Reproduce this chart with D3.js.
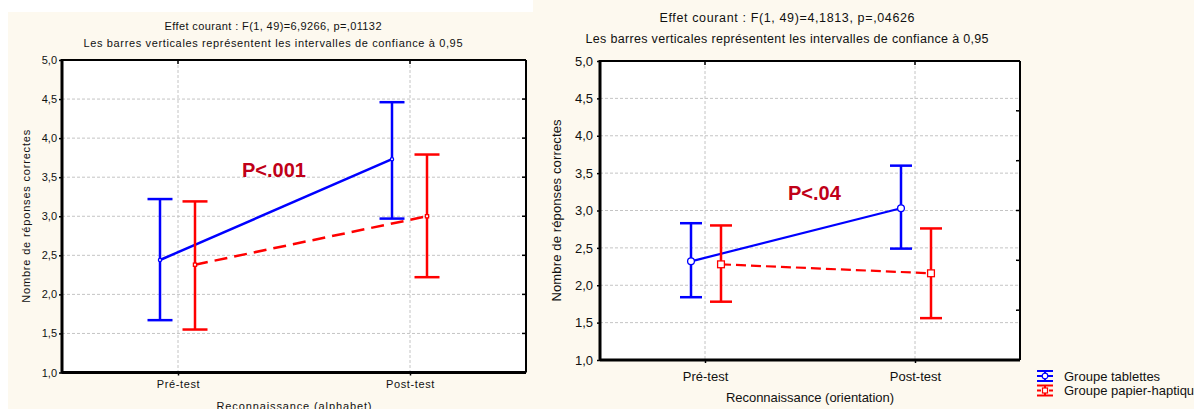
<!DOCTYPE html>
<html>
<head>
<meta charset="utf-8">
<script src="https://cdn.jsdelivr.net/npm/d3@7"></script>
<style>
  body { margin: 0; background: #fff; }
  svg { display: block; font-family: "Liberation Sans", Arial, sans-serif; }
</style>
</head>
<body>
<svg id="chart" width="1194" height="409"></svg>
<script>
// Two interaction plots (tablettes vs papier-haptique), pre/post test

var categories = ["Pré-test", "Post-test"];
var yTicks = [1, 1.5, 2, 2.5, 3, 3.5, 4, 4.5, 5];
var yTickLabels = ["1,0", "1,5", "2,0", "2,5", "3,0", "3,5", "4,0", "4,5", "5,0"];
var legendLabels = ["Groupe tablettes", "Groupe papier-haptique"];

// Reconnaissance (alphabet)
var alphaTabletMean = [2.44, 3.73];
var alphaTabletLow = [1.67, 2.97];
var alphaTabletHigh = [3.22, 4.46];
var alphaPaperMean = [2.38, 3.00];
var alphaPaperLow = [1.55, 2.22];
var alphaPaperHigh = [3.19, 3.79];

// Reconnaissance (orientation)
var orientTabletMean = [2.32, 3.03];
var orientTabletLow = [1.84, 2.49];
var orientTabletHigh = [2.83, 3.60];
var orientPaperMean = [2.28, 2.16];
var orientPaperLow = [1.78, 1.56];
var orientPaperHigh = [2.80, 2.76];
// the orientation plot has its own marks on the right edge
var orientSideTicks = [5 / 3, 7 / 3, 3, 11 / 3, 13 / 3];

var BLUE = "#0000ff",
    RED = "#ff0000",
    DARKRED = "#c00018",
    CREAM = "#fdf9ef";

var svg = d3.select("#chart");

///////////////////////////////////////////////////////////////////////////////
// Background

svg.append("rect").attr("width", 1194).attr("height", 409).attr("fill", CREAM);
svg.append("rect").attr("x", 0).attr("y", 0).attr("width", 533).attr("height", 12).attr("fill", "#fff");
svg.append("rect").attr("x", 0).attr("y", 12).attr("width", 8).attr("height", 397).attr("fill", "#fff");

///////////////////////////////////////////////////////////////////////////////
// One panel

var drawPanel = function (p) {
  var g = svg.append("g");
  var x = d3.scalePoint().domain(categories).range([p.x0, p.x1]).padding(0.5);
  var y = d3.scaleLinear().domain([1, 5]).range([p.y1, p.y0]);

  g.append("rect")
    .attr("x", p.x0).attr("y", p.y0)
    .attr("width", p.x1 - p.x0).attr("height", p.y1 - p.y0)
    .attr("fill", "#fff");

  // dashed grid
  g.selectAll(".hgrid").data(yTicks.slice(1, -1)).enter().append("line")
    .attr("x1", p.x0).attr("x2", p.x1)
    .attr("y1", function (d) { return y(d); })
    .attr("y2", function (d) { return y(d); })
    .attr("stroke", "#c4c4c4").attr("stroke-dasharray", "3,2");
  g.selectAll(".vgrid").data(categories).enter().append("line")
    .attr("x1", function (d) { return x(d); })
    .attr("x2", function (d) { return x(d); })
    .attr("y1", p.y0).attr("y2", p.y1)
    .attr("stroke", "#c4c4c4").attr("stroke-dasharray", "3,2");

  // axes (ticks + labels), frame drawn separately
  var yAxis = d3.axisLeft(y).tickValues(yTicks).tickSize(3).tickPadding(2)
    .tickFormat(function (d, i) { return yTickLabels[i]; });
  var ya = g.append("g").attr("transform", "translate(" + p.x0 + ",0)").call(yAxis);
  ya.select(".domain").remove();
  ya.selectAll("line").attr("stroke", "#000").attr("stroke-width", 1.5);
  ya.selectAll("text").attr("font-size", p.tickFont).attr("fill", "#111")
    .attr("font-family", "Liberation Sans, Arial, sans-serif")
    .attr("x", p.yLabelX - p.x0);

  var xAxis = d3.axisBottom(x).tickSize(3).tickPadding(2);
  var xa = g.append("g").attr("transform", "translate(0," + p.y1 + ")").call(xAxis);
  xa.select(".domain").remove();
  xa.selectAll("line").attr("stroke", "#000").attr("stroke-width", 1.5);
  xa.selectAll("text").attr("font-size", p.tickFont).attr("fill", "#111")
    .attr("font-family", "Liberation Sans, Arial, sans-serif")
    .attr("letter-spacing", p.spacing)
    .attr("dy", null).attr("y", p.xLabelY - p.y1);

  // inner ticks on top and right
  g.selectAll(".tt").data(categories).enter().append("line")
    .attr("x1", function (d) { return x(d); })
    .attr("x2", function (d) { return x(d); })
    .attr("y1", p.y0).attr("y2", p.y0 + 4)
    .attr("stroke", "#000").attr("stroke-width", 1.5);
  g.selectAll(".rt").data(p.sideTicks).enter().append("line")
    .attr("x1", p.x1 - 4).attr("x2", p.x1)
    .attr("y1", function (d) { return y(d); })
    .attr("y2", function (d) { return y(d); })
    .attr("stroke", "#000").attr("stroke-width", 1.5);

  // frame
  g.append("line").attr("x1", p.x0).attr("x2", p.x1).attr("y1", p.y0).attr("y2", p.y0)
    .attr("stroke", "#000").attr("stroke-width", 2);
  g.append("line").attr("x1", p.x1).attr("x2", p.x1).attr("y1", p.y0).attr("y2", p.y1)
    .attr("stroke", "#000").attr("stroke-width", 2);
  g.append("line").attr("x1", p.x0).attr("x2", p.x1).attr("y1", p.y1).attr("y2", p.y1)
    .attr("stroke", "#000").attr("stroke-width", 3);
  g.append("line").attr("x1", p.x0).attr("x2", p.x0).attr("y1", p.y0 - 1).attr("y2", p.y1 + 1)
    .attr("stroke", "#000").attr("stroke-width", 3);

  // series
  p.series.forEach(function (s) {
    var pts = categories.map(function (c, i) {
      return { x: x(c) + s.offset, m: s.mean[i], lo: s.low[i], hi: s.high[i] };
    });
    var line = d3.line().x(function (d) { return d.x; }).y(function (d) { return y(d.m); });

    g.append("path").datum(pts).attr("d", line)
      .attr("fill", "none").attr("stroke", s.color)
      .attr("stroke-width", p.lineWidth)
      .attr("stroke-dasharray", s.dash || null);

    var bars = g.selectAll(null).data(pts).enter().append("g");
    bars.append("line")
      .attr("x1", function (d) { return d.x; }).attr("x2", function (d) { return d.x; })
      .attr("y1", function (d) { return y(d.lo); }).attr("y2", function (d) { return y(d.hi); })
      .attr("stroke", s.color).attr("stroke-width", 2.5);
    [ "lo", "hi" ].forEach(function (k) {
      bars.append("line")
        .attr("x1", function (d) { return d.x - p.cap; })
        .attr("x2", function (d) { return d.x + p.cap; })
        .attr("y1", function (d) { return y(d[k]); })
        .attr("y2", function (d) { return y(d[k]); })
        .attr("stroke", s.color).attr("stroke-width", 2.5);
    });

    if (s.marker === "circle") {
      bars.append("circle")
        .attr("cx", function (d) { return d.x; })
        .attr("cy", function (d) { return y(d.m); })
        .attr("r", p.markerSize)
        .attr("fill", "#fff").attr("stroke", s.color).attr("stroke-width", 1.3);
    } else {
      bars.append("rect")
        .attr("x", function (d) { return d.x - p.markerSize; })
        .attr("y", function (d) { return y(d.m) - p.markerSize; })
        .attr("width", p.markerSize * 2).attr("height", p.markerSize * 2)
        .attr("fill", "#fff").attr("stroke", s.color).attr("stroke-width", 1.3);
    }
  });

  // texts
  g.append("text").attr("x", p.titleX).attr("y", p.titleY)
    .attr("text-anchor", "middle").attr("font-size", p.titleFont).attr("fill", "#111")
    .attr("textLength", p.titleLen).attr("lengthAdjust", "spacing")
    .text(p.title);
  g.append("text").attr("x", p.titleX).attr("y", p.subY)
    .attr("text-anchor", "middle").attr("font-size", p.titleFont).attr("fill", "#111")
    .attr("textLength", p.subLen).attr("lengthAdjust", "spacing")
    .text("Les barres verticales représentent les intervalles de confiance à 0,95");

  g.append("text")
    .attr("transform", "translate(" + p.yTitleX + "," + ((p.y0 + p.y1) / 2) + ") rotate(-90)")
    .attr("text-anchor", "middle").attr("font-size", p.tickFont).attr("fill", "#111")
    .attr("textLength", p.yTitleLen).attr("lengthAdjust", "spacing")
    .text("Nombre de réponses correctes");

  g.append("text").attr("x", (p.x0 + p.x1) / 2).attr("y", p.xTitleY)
    .attr("text-anchor", "middle").attr("font-size", p.tickFont).attr("fill", "#111")
    .attr("textLength", p.xTitleLen).attr("lengthAdjust", "spacing")
    .text(p.xTitle);

  g.append("text").attr("x", p.sigX).attr("y", p.sigY)
    .attr("font-size", 20).attr("font-weight", "bold").attr("fill", DARKRED)
    .text(p.sig);
};

drawPanel({
  x0: 62, x1: 526, y0: 60, y1: 372.5,
  tickFont: 11, titleFont: 11, spacing: 0.6,
  yLabelX: 57, xLabelY: 388,
  sideTicks: yTicks.slice(1, -1),
  cap: 12.5, lineWidth: 2.5, markerSize: 1.6,
  title: "Effet courant : F(1, 49)=6,9266, p=,01132",
  titleX: 273, titleY: 29.5, subY: 47, titleLen: 217, subLen: 379,
  yTitleX: 30, yTitleLen: 173,
  xTitle: "Reconnaissance (alphabet)", xTitleY: 409.5, xTitleLen: 155,
  sig: "P<.001", sigX: 242, sigY: 177,
  series: [
    { mean: alphaTabletMean, low: alphaTabletLow, high: alphaTabletHigh,
      color: BLUE, offset: -18, marker: "circle" },
    { mean: alphaPaperMean, low: alphaPaperLow, high: alphaPaperHigh,
      color: RED, offset: 17, marker: "square", dash: "13,7" }
  ]
});

drawPanel({
  x0: 600, x1: 1020, y0: 61, y1: 360,
  tickFont: 13, titleFont: 12.5, spacing: 0,
  yLabelX: 593, xLabelY: 381,
  sideTicks: orientSideTicks,
  cap: 11, lineWidth: 2.2, markerSize: 3.4,
  title: "Effet courant : F(1, 49)=4,1813, p=,04626",
  titleX: 787, titleY: 21.5, subY: 42.5, titleLen: 255, subLen: 403,
  yTitleX: 561, yTitleLen: 182,
  xTitle: "Reconnaissance (orientation)", xTitleY: 402, xTitleLen: 168,
  sig: "P<.04", sigX: 788, sigY: 200,
  series: [
    { mean: orientTabletMean, low: orientTabletLow, high: orientTabletHigh,
      color: BLUE, offset: -14, marker: "circle" },
    { mean: orientPaperMean, low: orientPaperLow, high: orientPaperHigh,
      color: RED, offset: 16, marker: "square", dash: "10,5" }
  ]
});

///////////////////////////////////////////////////////////////////////////////
// Legend (error bar icon + label)

var legendColors = [BLUE, RED];
var legend = svg.append("g").selectAll("g").data(legendLabels).enter().append("g")
  .attr("transform", function (d, i) { return "translate(1037," + (376 + i * 14.5) + ")"; });

legend.each(function (d, i) {
  var l = d3.select(this), c = legendColors[i];
  [-5, 5].forEach(function (dy) {
    l.append("line").attr("x1", 0).attr("x2", 16).attr("y1", dy).attr("y2", dy)
      .attr("stroke", c).attr("stroke-width", 2);
  });
  l.append("line").attr("x1", 0).attr("x2", 16).attr("y1", 0).attr("y2", 0)
    .attr("stroke", c).attr("stroke-width", 2)
    .attr("stroke-dasharray", i ? "4,2" : null);
  l.append("line").attr("x1", 8).attr("x2", 8).attr("y1", -5).attr("y2", 5)
    .attr("stroke", c).attr("stroke-width", 2);
  if (i === 0) {
    l.append("circle").attr("cx", 8).attr("cy", 0).attr("r", 2.8)
      .attr("fill", "#fff").attr("stroke", c).attr("stroke-width", 1.2);
  } else {
    l.append("rect").attr("x", 5.5).attr("y", -2.5).attr("width", 5).attr("height", 5)
      .attr("fill", "#fff").attr("stroke", c).attr("stroke-width", 1.2);
  }
  l.append("text").attr("x", 27).attr("y", 4.7)
    .attr("font-size", 13).attr("fill", "#111").text(d);
});
</script>
</body>
</html>
